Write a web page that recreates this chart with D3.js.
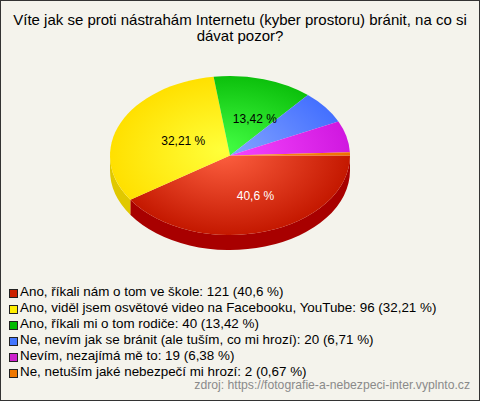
<!DOCTYPE html>
<html><head><meta charset="utf-8">
<script src="https://cdn.jsdelivr.net/npm/d3@7"></script>
<style>
html,body{margin:0;padding:0;background:#f4f3ec;}
svg{display:block;}
text{font-family:"Liberation Sans",Arial,sans-serif;}
</style></head>
<body>
<script>
const titleLines = ["Víte jak se proti nástrahám Internetu (kyber prostoru) bránit, na co si", "dávat pozor?"];
const categories = [
  "Ano, říkali nám o tom ve škole",
  "Ano, viděl jsem osvětové video na Facebooku, YouTube",
  "Ano, říkali mi o tom rodiče",
  "Ne, nevím jak se bránit (ale tuším, co mi hrozí)",
  "Nevím, nezajímá mě to",
  "Ne, netušíм jaké nebezpečí mi hrozí".replace("м","m")
];
const counts = [121, 96, 40, 20, 19, 2];
const percents = ["40,6", "32,21", "13,42", "6,71", "6,38", "0,67"];
const showLabel = [true, true, true, false, false, false];
const sourceText = "zdroj: https://fotografie-a-nebezpeci-inter.vyplnto.cz";

const colorsLight = ["#ff6242", "#ffff3a", "#44ff44", "#86a6ff", "#f848ff", "#ff9a20"];
const colorsDark  = ["#c41800", "#ffe000", "#0cc00c", "#4470ff", "#d018e0", "#f07000"];
const sideColors  = ["#a80000", "#e0c800", "#0a9a0a", "#3050d0", "#a010b0", "#c05800"];
const legendColors= ["#cc2200", "#ffee00", "#00bb00", "#4477ff", "#cc22cc", "#ee7700"];
const labelColors = ["#ffffff", "#000000", "#000000", "#000000", "#000000", "#000000"];

const W = 480, H = 401;
const cx = 230, cy = 155.5, rx = 120, ry = 79.5, depth = 15;

const svg = d3.select("body").append("svg").attr("width", W).attr("height", H);
svg.append("rect").attr("x",0.5).attr("y",0.5).attr("width",W-1).attr("height",H-1)
  .attr("fill","#f4f3ec").attr("stroke","#333333");

// title
svg.append("text").attr("x", 240).attr("y", 25).attr("text-anchor","middle")
  .attr("font-size", 15).attr("fill","#000")
  .selectAll("tspan").data(titleLines).join("tspan")
  .attr("x", 240).attr("dy", (d,i)=> i===0 ? 0 : 15.5).text(d=>d);

const pie = d3.pie().sort(null).value(d=>d).startAngle(Math.PI/2).endAngle(Math.PI/2 + 2*Math.PI);
const arcs = pie(counts);
const tOf = a => a - Math.PI/2;
const pt = (t, dy=0) => [cx + rx*Math.cos(t), cy + ry*Math.sin(t) + dy];

const defs = svg.append("defs");
arcs.forEach((a,i)=>{
  const g = defs.append("radialGradient").attr("id","gt"+i)
    .attr("gradientUnits","userSpaceOnUse")
    .attr("cx",0).attr("cy",0).attr("r",rx).attr("fx",-8).attr("fy",-8);
  g.append("stop").attr("offset","0%").attr("stop-color",colorsLight[i]);
  g.append("stop").attr("offset","100%").attr("stop-color",colorsDark[i]);
});

// sides (front half only)
const sideG = svg.append("g");
arcs.forEach((a,i)=>{
  let t0 = Math.max(tOf(a.startAngle), 0), t1 = Math.min(tOf(a.endAngle), Math.PI);
  if (t1 <= t0) return;
  const p0 = pt(t0), p1 = pt(t1), q1 = pt(t1, depth), q0 = pt(t0, depth);
  const d = `M${p0}A${rx},${ry} 0 0 1 ${p1}L${q1}A${rx},${ry} 0 0 0 ${q0}Z`;
  sideG.append("path").attr("d", d).attr("fill", sideColors[i]);
});

// top slices
const arcGen = d3.arc().innerRadius(0).outerRadius(rx);
const topG = svg.append("g").attr("transform",`translate(${cx},${cy}) scale(1,${ry/rx})`);
topG.selectAll("path").data(arcs).join("path")
  .attr("d", arcGen)
  .attr("fill",(d,i)=>`url(#gt${i})`);

// labels
svg.append("g").selectAll("text").data(arcs.filter((a,i)=>showLabel[i])).join("text")
  .attr("x", a => { const t = (tOf(a.startAngle)+tOf(a.endAngle))/2; return cx + rx*0.5*Math.cos(t) + 8; })
  .attr("y", a => { const t = (tOf(a.startAngle)+tOf(a.endAngle))/2; return cy + ry*0.5*Math.sin(t) + 2; })
  .attr("text-anchor","middle").attr("dominant-baseline","central")
  .attr("font-size", 12).attr("fill", a => labelColors[a.index])
  .text(a => percents[a.index] + " %");

// legend
const lg = svg.append("g");
const rowY = i => 296 + i*16;
lg.selectAll("rect").data(categories).join("rect")
  .attr("x", 9.5).attr("y", (d,i)=>rowY(i)-6.5).attr("width", 8).attr("height", 8)
  .attr("fill",(d,i)=>legendColors[i]).attr("stroke","#222").attr("stroke-width",1);
lg.selectAll("text").data(categories).join("text")
  .attr("x", 20).attr("y",(d,i)=>rowY(i)).attr("font-size",13.4).attr("fill","#000")
  .text((d,i)=>`${d}: ${counts[i]} (${percents[i]} %)`);

svg.append("text").attr("x", 470).attr("y", 389).attr("text-anchor","end")
  .attr("font-size", 12.2).attr("fill","#8a8a8a").text(sourceText);
</script>
</body></html>
